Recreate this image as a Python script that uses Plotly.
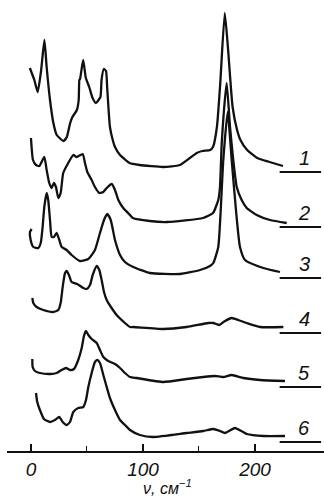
import plotly.graph_objects as go

# ---- data (wavenumber, cm^-1 ; relative intensity, arbitrary units) ----
x1 = [-1, 3, 6, 9, 12, 14, 17, 20, 23, 29, 32, 35, 37, 41, 42.6, 43.2, 43.8, 46.6, 49, 52, 55, 58,
      62, 63, 65, 67, 68, 70.5, 73, 75, 79.5, 88, 97, 118, 133, 148, 153, 160, 162.5, 166, 169, 173,
      176, 180, 184, 187, 193, 202, 213, 225]
y1 = [98, 86, 74, 95, 126, 99, 66, 43, 31, 25, 29, 43, 49, 56, 66, 86, 87, 106, 88, 79, 68, 63,
      69, 86, 97, 95, 79, 39, 26, 19, 11, 3, 1, -1, 1, 13, 15, 16, 19, 39, 83, 153,
      116, 59, 36, 26, 16, 8, 4, 0]

x2 = [0, 1.8, 4.5, 7.4, 11.9, 14, 16.3, 18.5, 20.5, 22.3, 24.4, 26.5, 28.8, 33.3, 37.8, 40.8, 46.2,
      48.2, 50.3, 54.2, 57.1, 61, 64.6, 67.6, 72.1, 75, 78, 82.4, 88.4, 91, 106, 121.4, 153.6, 162.5,
      167.2, 168.75, 170.3, 172.3, 174.7, 177.7, 180.6, 183.7, 188.1, 192.6, 201.5, 213.4, 228.3]
y2 = [83, 61, 56, 55, 64, 51, 38, 33, 38, 34, 23, 28, 48, 58, 66, 64, 67,
      58, 49, 41, 34, 28, 29, 33, 37, 31, 21, 13, 6, 3, 0, -1, 3, 8,
      21, 34, 78, 111, 138, 94, 61, 34, 21, 13, 6, 1, -2]

x3 = [0.6, -0.9, -0.3, 2.1, 6.5, 8.7, 10.4, 11.9, 14, 15.4, 17, 18.5, 20.5, 22.9, 25.3, 27.4, 31.9,
      36.3, 43.75, 51.2, 57.1, 61.6, 65.2, 68.1, 71.2, 75, 79.5, 83.9, 91.3, 106.2, 133, 150.9, 159.8,
      162.8, 167.2, 169.4, 171.7, 175.6, 179.2, 183, 186.6, 191.1, 207.4, 222.3]
y3 = [43, 40, 32, 25, 24, 29, 45, 65, 79, 72, 52, 35, 35, 39, 32, 25, 22,
      17, 11, 13, 22, 39, 52, 58, 52, 32, 17, 10, 5, -1, -2, 2, 6,
      9, 25, 62, 112, 160, 112, 62, 25, 12, 4, 0]

x4 = [1.2, 2.1, 5.1, 11, 19.9, 24.4, 26.5, 28.3, 30.4, 31.9, 33.9, 36.3, 41.3, 46.7, 49.7, 52.7, 55.1,
      58.7, 61, 63.1, 65.2, 67.6, 72, 76.5, 83.9, 88.4, 91.3, 118.1, 139, 158.3, 162.8, 168.1, 173.2,
      179.2, 185.1, 192.6, 204.5, 225.3]
y4 = [29, 24, 20, 17, 15, 17, 24, 40, 54, 56, 52, 45, 43, 39, 38, 42, 52,
      61, 57, 47, 35, 27, 19, 12, 4, 0, 0, -2, 0, 4, 4, 2, 6,
      9, 7, 4, 0, 0]

x5 = [1.2, 1.5, 3.6, 8, 17, 22.9, 27.4, 31.3, 34.8, 38.4, 42.2, 45.3, 47.3, 49.1, 51.2, 54.2, 58.7,
      61.6, 64.6, 69, 75, 79.5, 83.9, 88.4, 94.4, 118.1, 139, 153.8, 164.3, 171.7, 179.2, 189.6, 204.5,
      226.8]
y5 = [22, 14, 10, 8, 7, 8, 11, 13, 11, 12, 21, 33, 45, 50, 46, 42, 38,
      31, 24, 20, 17, 13, 8, 4, 3, -1, 2, 4, 5, 4, 6, 3, 1,
      0]

x6 = [4.5, 5.6, 8, 11.6, 17, 21.4, 25.3, 28.3, 31.9, 34.8, 37.8, 42.2, 46.7, 49.1, 51.2, 54.2, 57.1,
      59.2, 61.6, 64.6, 67.6, 70.5, 75, 79.5, 83.9, 88.4, 97.3, 109.2, 139, 153.8, 162.8, 168.75, 173.2,
      182.1, 192.6, 207.4, 226.8]
y6 = [43, 34, 26, 17, 14, 16, 19, 14, 11, 14, 24, 28, 29, 36, 49, 63, 74,
      76, 73, 61, 49, 38, 26, 16, 11, 6, 1, -1, 3, 5, 7, 5, 3,
      8, 2, 0, 0]

curve_labels = ["1", "2", "3", "4", "5", "6"]
major_ticks = [0, 100, 200]
major_tick_labels = ["0", "100", "200"]
minor_ticks = [50, 150]
axis_title = "ν, см<sup>−1</sup>"

# ---- layout/style ----
offsets = [285, 230, 179, 124, 70, 15]   # vertical stacking of the spectra
series = [(x1, y1), (x2, y2), (x3, y3), (x4, y4), (x5, y5), (x6, y6)]
ink = "#111111"
num_font = dict(family="Liberation Sans Narrow, Liberation Sans, DejaVu Sans, sans-serif",
                size=20, color=ink, style="italic")
tick_font = dict(num_font, size=19)
title_font = dict(num_font, size=16)

fig = go.Figure()
for (xs, ys), off in zip(series, offsets):
    fig.add_trace(go.Scatter(
        x=xs, y=[v + off for v in ys], mode="lines",
        line=dict(color=ink, width=2.3, shape="spline", smoothing=0.5),
        hoverinfo="skip", showlegend=False))

for lab, off in zip(curve_labels, offsets):
    fig.add_shape(type="line", xref="x", yref="y", x0=222, x1=259, y0=off - 6, y1=off - 6,
                  line=dict(color=ink, width=1.8))
    fig.add_annotation(x=244, y=off + 8, xref="x", yref="y", text=lab, showarrow=False,
                       font=num_font, xanchor="center", yanchor="middle")

fig.add_annotation(x=(168 - 7) / 317, y=-0.104, xref="paper", yref="paper", text=axis_title,
                   showarrow=False, font=title_font, xanchor="center", yanchor="bottom",
                   borderpad=0)

fig.update_layout(
    width=324, height=499,
    margin=dict(l=7, r=0, t=0, b=48),
    paper_bgcolor="white", plot_bgcolor="white",
    xaxis=dict(range=[-21.4, 261.6], showgrid=False, zeroline=False,
               showline=True, linecolor=ink, linewidth=2,
               ticks="inside", ticklen=7, tickwidth=1.5, tickcolor=ink,
               tickvals=major_ticks, ticktext=major_tick_labels, tickfont=tick_font,
               minor=dict(tickvals=minor_ticks, ticks="inside", ticklen=5, tickwidth=1.3,
                          tickcolor=ink, showgrid=False),
               fixedrange=True),
    yaxis=dict(range=[0, 451], visible=False, fixedrange=True),
)

fig.write_html("out.html")
